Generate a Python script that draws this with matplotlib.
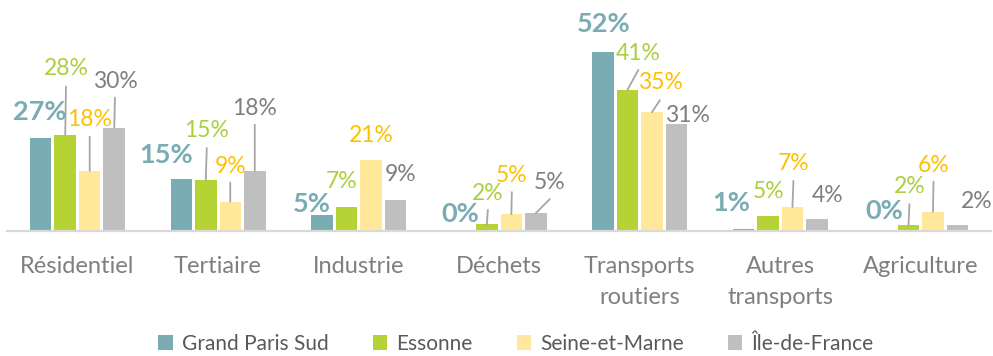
import math
import matplotlib
matplotlib.use("Agg")
import matplotlib.pyplot as plt
from matplotlib.patches import Patch

plt.rcParams["font.family"] = ["Lato", "DejaVu Sans"]

# ---- data (share of emissions by sector, %) ----
categories = ["Résidentiel", "Tertiaire", "Industrie", "Déchets",
              "Transports\nroutiers", "Autres\ntransports", "Agriculture"]
series_names = ["Grand Paris Sud", "Essonne", "Seine-et-Marne", "Île-de-France"]
grand_paris_sud = [27, 15, 4.6, 0.1, 52, 0.6, 0.3]
essonne = [28, 14.8, 7, 1.9, 41, 4.5, 1.7]
seine_et_marne = [17.5, 8.5, 20.6, 4.9, 34.5, 7, 5.6]
ile_de_france = [30, 17.5, 9.1, 5.2, 31.2, 3.6, 1.7]

# ---- styles ----
bar_colors = ["#7AACB3", "#B5D334", "#FFE89A", "#BFBFBF"]
label_colors = ["#7AACB3", "#ABCF3E", "#FFC000", "#7F7F7F"]
label_sizes = [19.5, 16.5, 16.5, 16.5]
label_weights = ["bold", "normal", "normal", "normal"]
leader_color = "#A6A6A6"

# data-label placement: offset (pixels) of the label baseline from the bar top
label_offsets = [
    [(-0.75, 18), (-15, 16), (-10, 3), (-2.5, 9), (1, 20), (-12, 18), (0.5, 11)],
    [(0.75, 60), (1, 43), (-5, 19), (1, 24.5), (11, 30), (1, 18), (1, 32)],
    [(0, 45), (0, 29), (0.5, 18), (0.5, 32), (9, 23), (1, 37), (0.5, 40)],
    [(0.75, 40), (0, 56), (5.5, 19), (14, 24), (11, 2), (11, 17), (19, 17)],
]
# leader-line end points (pixels from the bar top); None = no leader
leader_ends = [
    [None] * 7,
    [(0.75, 48), (1, 32), None, (1, 14.5), (11, 20), None, (1, 21)],
    [(0, 34), (0, 19), None, (0.5, 22), (8, 12), (1, 26), (0.5, 30)],
    [(0.75, 30), (0, 46), None, (14, 14), None, None, None],
]

series = [grand_paris_sud, essonne, seine_et_marne, ile_de_france]

W, H = 993, 356
fig = plt.figure(figsize=(W / 100, H / 100), dpi=100)
ax = fig.add_axes([7.2 / W, 125 / H, (991 - 7.2) / W, 231 / H])

pitch = 0.1743
bar_w = 0.153
x = list(range(len(categories)))

for s, vals in enumerate(series):
    off = (s - 1.5) * pitch
    xs = [xi + off for xi in x]
    ax.bar(xs, vals, width=bar_w, color=bar_colors[s], linewidth=0, zorder=2)
    for i, v in enumerate(vals):
        lbl = f"{math.floor(v + 0.5):d}%"
        dx, dy = label_offsets[s][i]
        ax.annotate(lbl, xy=(xs[i], v), xycoords="data", xytext=(dx, dy),
                    textcoords="offset pixels", ha="center", va="baseline",
                    fontsize=label_sizes[s], fontweight=label_weights[s],
                    color=label_colors[s], annotation_clip=False, zorder=4)
        le = leader_ends[s][i]
        if le is not None:
            ax.annotate("", xy=(xs[i], v), xycoords="data", xytext=le,
                        textcoords="offset pixels",
                        arrowprops=dict(arrowstyle="-", color=leader_color,
                                        lw=1.3, shrinkA=0, shrinkB=0),
                        annotation_clip=False, zorder=3)

ax.set_xlim(-0.5, len(categories) - 0.5)
ax.set_ylim(0, 67.1)
ax.set_xticks(x)
ax.set_xticklabels(categories, fontsize=17, color="#7F7F7F", linespacing=1.6)
ax.tick_params(axis="x", length=0, pad=18)
ax.set_yticks([])
for side in ["top", "right", "left"]:
    ax.spines[side].set_visible(False)
ax.spines["bottom"].set_color("#D9D9D9")
ax.spines["bottom"].set_linewidth(1.6)
ax.patch.set_alpha(0)

handles = [Patch(facecolor=c, edgecolor="none", label=n)
           for c, n in zip(bar_colors, series_names)]
fig.legend(handles=handles, loc="center", bbox_to_anchor=(516 / W, 1 - 344 / H),
           ncol=4, frameon=False, fontsize=15, handlelength=0.7,
           handleheight=0.7, handletextpad=0.45, columnspacing=2.1,
           labelcolor="#595959", borderpad=0, borderaxespad=0)

fig.savefig("out.png", dpi=100)
